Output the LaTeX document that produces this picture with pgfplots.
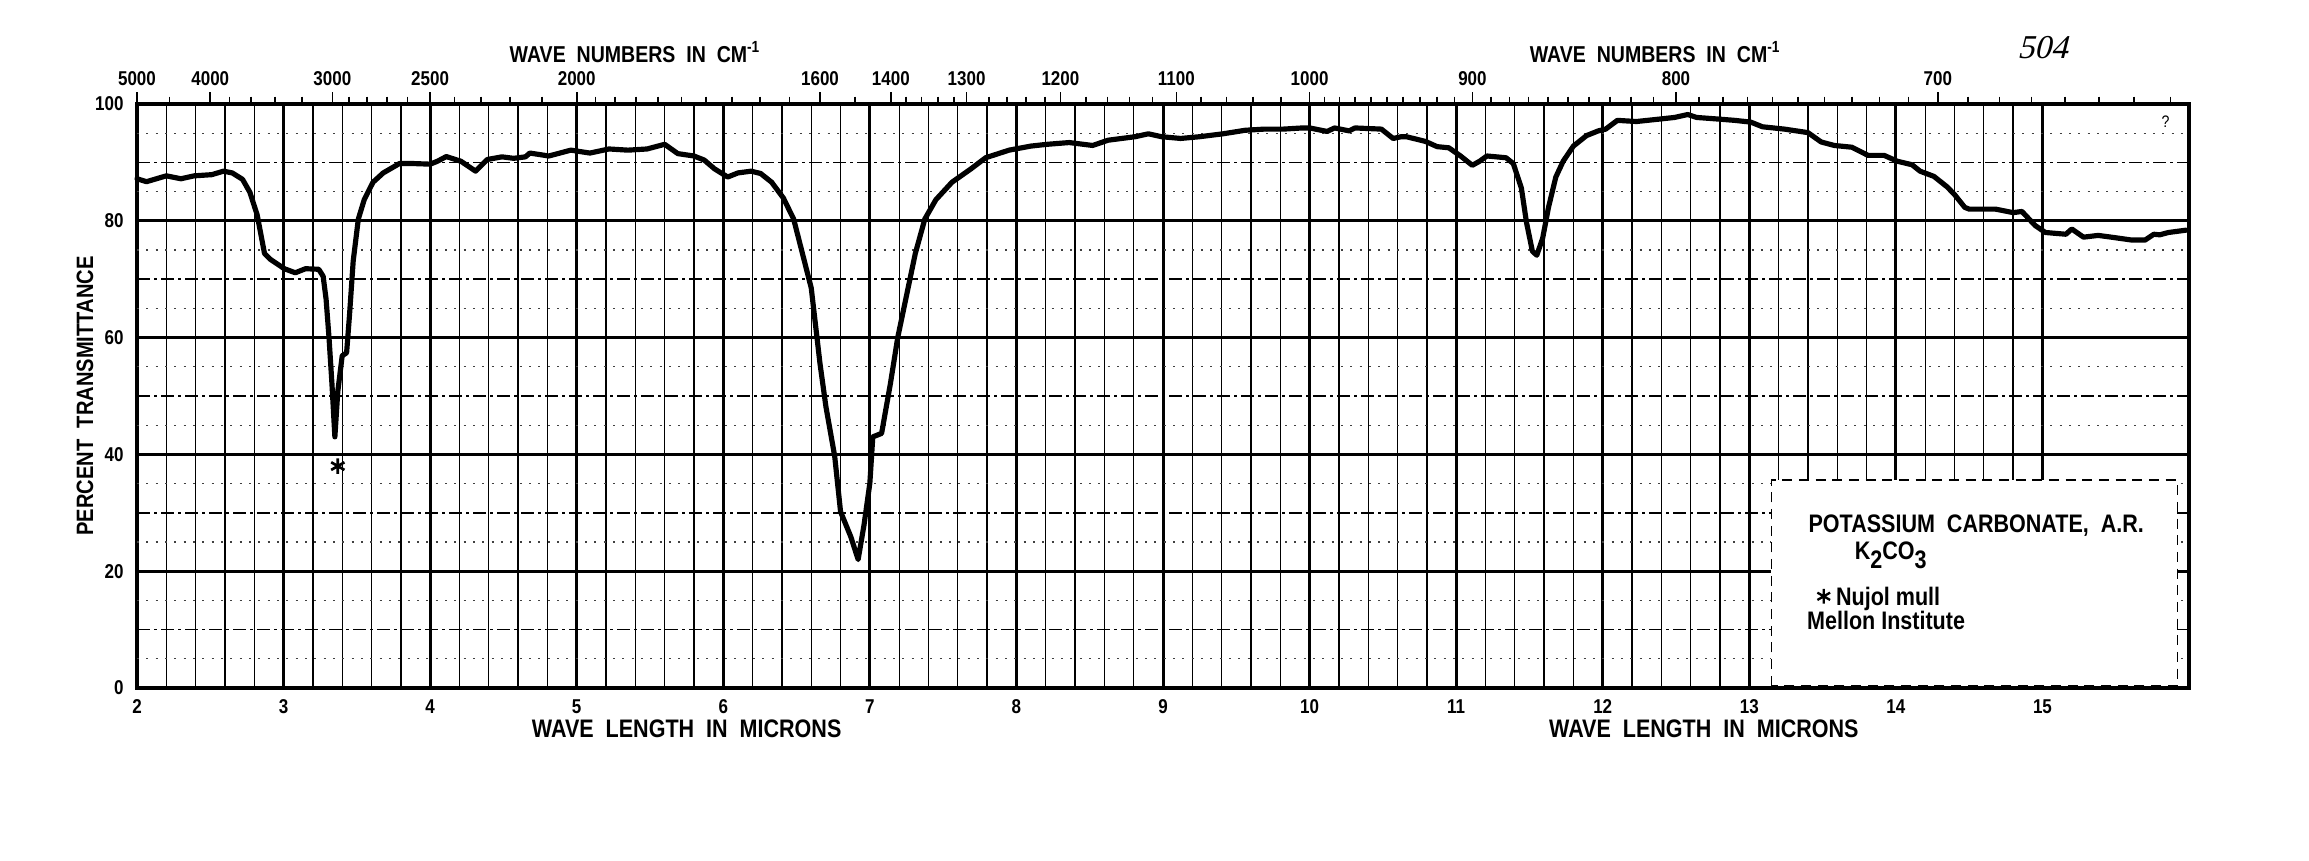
\documentclass[border=0pt]{standalone}
\usepackage{fontspec}
\setmainfont{Liberation Sans}[FakeStretch=0.85]
\newfontfamily\hand{Liberation Serif}[FakeSlant=0.25]
\usepackage{pgfplots}
\pgfplotsset{compat=1.18}
\newcommand\tickfont{\fontsize{6}{7}\selectfont\bfseries}
\newcommand\titlefont{\fontsize{6.9}{7}\selectfont\bfseries}
\newcommand\btitlefont{\fontsize{7.6}{8}\selectfont\bfseries}
\newcommand\legfont{\fontsize{7.6}{8}\selectfont\bfseries}
\pgfplotstableread{
x y
2.00 87.2
2.065 86.7
2.20 87.7
2.30 87.2
2.39 87.7
2.51 87.9
2.59 88.5
2.65 88.2
2.72 87.1
2.77 84.9
2.82 81.0
2.87 74.4
2.91 73.4
3.005 71.8
3.08 71.1
3.15 71.8
3.24 71.7
3.27 70.5
3.29 66.6
3.31 60.0
3.33 52.1
3.35 43.0
3.37 50.8
3.40 56.9
3.43 57.4
3.45 63.9
3.475 73.1
3.51 80.3
3.55 83.6
3.61 86.6
3.68 88.2
3.79 89.8
3.89 89.8
4.00 89.7
4.05 90.2
4.11 91.0
4.21 90.2
4.31 88.5
4.39 90.5
4.49 90.95
4.57 90.7
4.65 90.95
4.68 91.6
4.81 91.1
4.96 92.1
5.09 91.6
5.22 92.3
5.35 92.1
5.48 92.3
5.60 93.1
5.69 91.5
5.80 91.1
5.87 90.4
5.94 88.9
6.03 87.5
6.10 88.2
6.19 88.5
6.255 88.1
6.33 86.6
6.41 83.9
6.48 80.3
6.54 74.4
6.60 68.5
6.63 62.0
6.66 55.5
6.70 48.2
6.76 39.7
6.80 30.2
6.87 25.9
6.92 22.0
6.96 27.9
7.00 35.1
7.02 43.0
7.08 43.6
7.14 52.1
7.19 60.0
7.245 66.6
7.31 74.4
7.375 80.3
7.45 83.6
7.56 86.6
7.69 88.9
7.79 90.8
7.95 92.1
8.10 92.8
8.21 93.1
8.36 93.4
8.52 92.9
8.625 93.8
8.81 94.4
8.90 94.9
8.99 94.4
9.12 94.1
9.25 94.4
9.41 94.9
9.56 95.5
9.69 95.7
9.82 95.7
9.95 95.9
10.0 95.9
10.12 95.3
10.17 95.9
10.27 95.4
10.31 95.9
10.49 95.7
10.57 94.1
10.625 94.4
10.66 94.4
10.79 93.6
10.87 92.7
10.95 92.5
11.03 91.1
11.11 89.5
11.16 90.2
11.21 91.1
11.34 90.8
11.39 89.8
11.445 85.6
11.48 79.7
11.52 74.8
11.55 74.1
11.59 77.0
11.63 82.3
11.68 87.5
11.73 90.2
11.80 92.8
11.89 94.6
11.97 95.4
12.02 95.7
12.10 97.2
12.23 97.0
12.38 97.4
12.49 97.7
12.58 98.2
12.64 97.7
12.80 97.4
12.90 97.2
13.01 96.9
13.09 96.1
13.24 95.7
13.40 95.1
13.49 93.5
13.58 92.9
13.70 92.6
13.81 91.2
13.92 91.2
14.01 90.2
14.11 89.6
14.165 88.5
14.26 87.6
14.35 85.8
14.40 84.5
14.47 82.3
14.50 82.0
14.68 82.0
14.80 81.4
14.86 81.6
14.95 79.2
15.02 78.0
15.16 77.7
15.20 78.6
15.28 77.2
15.38 77.5
15.47 77.2
15.61 76.7
15.70 76.7
15.76 77.7
15.80 77.6
15.86 78.0
15.98 78.4
}\spectrum
\begin{document}
\begin{tikzpicture}[font=\bfseries]
\path[use as bounding box] (-41.1pt,-51.6pt) rectangle (651.6pt,206.4pt);
\begin{axis}[
  scale only axis, width=615.6pt, height=175.2pt,
  xmin=2, xmax=16, ymin=0, ymax=100,
  clip=false,
  xtick={2,...,15},
  minor x tick num=4,
  ytick={0,20,...,100},
  minor ytick={10,30,50,70,90},
  extra y ticks={5,15,...,95},
  extra y tick labels={},
  extra y tick style={grid=major,
     major grid style={black!75, line width=0.35pt, dash pattern=on 0.6pt off 2.2pt},
     major y grid style={black!75, line width=0.35pt, dash pattern=on 0.6pt off 2.2pt}},
  grid=both,
  major x grid style={black, line width=0.9pt},
  minor x grid style={black, line width=0.4pt},
  major y grid style={black, line width=0.9pt},
  minor y grid style={black, line width=0.45pt, dash pattern=on 4pt off 1.2pt on 0.8pt off 1.2pt},
  major tick length=0pt, minor tick length=0pt,
  axis line style={black, line width=1pt},
  tick label style={font=\tickfont},
  /pgf/number format/assume math mode=true,
  xticklabel style={yshift=0pt},
  yticklabel style={xshift=-0.5pt},
]
\filldraw[fill=white, draw=black, line width=0.4pt, densely dashed] (axis cs:13.15,0.4) rectangle (axis cs:15.92,35.6);
\addplot[black, line width=1.55pt, line join=round, line cap=round] table[x=x, y=y] {\spectrum};
\addplot[only marks, mark=asterisk, mark size=2.3pt, mark options={line width=0.8pt, black}] coordinates {(3.37,38)};
\node[font=\fontsize{7.1}{8}\selectfont\bfseries, rotate=90] at (axis cs:1.645,50) {PERCENT\ \ TRANSMITTANCE};
\node[font=\btitlefont] at (axis cs:5.75,-7.0) {WAVE\ \ LENGTH\ \ IN\ \ MICRONS};
\node[font=\btitlefont] at (axis cs:12.69,-7.0) {WAVE\ \ LENGTH\ \ IN\ \ MICRONS};
\node[font=\titlefont, inner sep=0pt] at (axis cs:5.4,108.9) {WAVE\ \ NUMBERS\ \ IN\ \ CM\textsuperscript{-1}};
\node[font=\titlefont, inner sep=0pt] at (axis cs:12.36,108.9) {WAVE\ \ NUMBERS\ \ IN\ \ CM\textsuperscript{-1}};
\node[font=\hand\fontsize{10}{11}\selectfont] at (axis cs:15.0,109.6) {504};
\node[font=\fontsize{5}{5}\selectfont] at (axis cs:15.84,97) {?};
\node[anchor=base west, font=\legfont, inner sep=0pt] at (axis cs:13.40,26.6) {POTASSIUM\ \ CARBONATE,\ \ A.R.};
\node[anchor=base west, font=\legfont, inner sep=0pt] at (axis cs:13.715,22.0) {K\raisebox{-0.7ex}{2}CO\raisebox{-0.7ex}{3}};
\node[anchor=base west, font=\legfont, inner sep=0pt] at (axis cs:13.46,14.1) {\tikz[baseline=-0.7ex]{\pgfsetplotmarksize{2.2pt}\pgfsetlinewidth{0.7pt}\pgfuseplotmark{asterisk}}\ Nujol mull};
\node[anchor=base west, font=\legfont, inner sep=0pt] at (axis cs:13.39,10.1) {Mellon Institute};
\end{axis}
\begin{axis}[
  scale only axis, width=615.6pt, height=175.2pt,
  xmin=2, xmax=16, ymin=0, ymax=100,
  hide y axis,
  axis line style={draw=none},
  xtick pos=right, xticklabel pos=right,
  tick align=outside,
  xtick={2,2.5,3.333,4,5,6.66,7.143,7.66,8.3,9.091,10,11.111,12.5,14.286},
  xticklabels={5000,4000,3000,2500,2000,1600,1400,1300,1200,1100,1000,900,800,700},
  minor xtick={2.222,2.632,2.778,2.941,3.125,3.448,3.571,3.704,3.846,4.167,4.348,4.545,4.762,5.128,5.263,5.405,5.556,5.714,5.882,6.061,6.25,6.452,6.897,7.246,7.353,7.463,7.576,7.813,7.937,8.065,8.197,8.475,8.621,8.772,8.929,9.259,9.434,9.615,9.804,10.101,10.204,10.309,10.417,10.526,10.638,10.753,10.870,10.989,11.236,11.364,11.494,11.628,11.765,11.905,12.048,12.195,12.346,12.658,12.821,12.987,13.158,13.333,13.514,13.699,13.889,14.085,14.493,14.706,14.925,15.152,15.385,15.625,15.873},
  major tick length=3.6pt, minor tick length=2.2pt,
  every tick/.style={black, line width=0.5pt},
  tick label style={font=\tickfont, inner sep=0.6pt},
  xticklabel style={yshift=1.2pt},
]
\addplot[draw=none] coordinates {(2,0) (16,0)};
\end{axis}
\end{tikzpicture}
\end{document}
